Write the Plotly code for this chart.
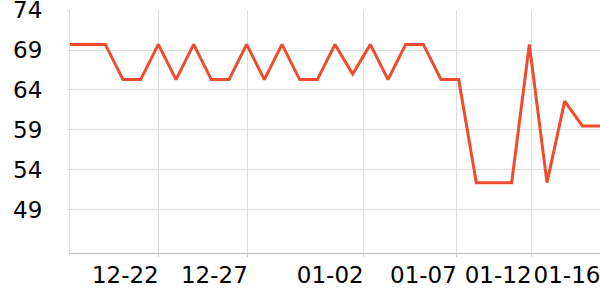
import plotly.graph_objects as go
import pandas as pd

dates = [d.strftime("%Y-%m-%d") for d in pd.date_range("2023-12-17", "2024-01-16", freq="D")]
values = [69.7, 69.7, 69.7, 65.3, 65.3, 69.7, 65.3, 69.7, 65.3, 65.3,
          69.7, 65.3, 69.7, 65.3, 65.3, 69.7, 66.0, 69.7, 65.3, 69.7,
          69.7, 65.3, 65.3, 52.4, 52.4, 52.4, 69.7, 52.4, 62.6, 59.5, 59.5]
tick_positions = ["2023-12-22", "2023-12-27 01:00", "2024-01-02 14:24",
                  "2024-01-07 21:00", "2024-01-12 02:24", "2024-01-16"]
tick_labels = ["12-22", "12-27", "01-02", "01-07", "01-12", "01-16"]
y_ticks = [49, 54, 59, 64, 69, 74]

fig = go.Figure()
fig.add_trace(go.Scatter(x=dates, y=values, mode="lines",
                         line=dict(color="#ef4b2c", width=3), hoverinfo="skip"))

fig.update_layout(
    width=600, height=300,
    margin=dict(l=70, r=0, t=10, b=47),
    paper_bgcolor="white", plot_bgcolor="white",
    showlegend=False,
    font=dict(family="DejaVu Sans", size=23, color="#000"),
)
fig.update_xaxes(
    type="date",
    range=["2023-12-17", "2024-01-16"],
    tickmode="array", tickvals=tick_positions, ticktext=tick_labels,
    showgrid=True, gridcolor="#dddddd", gridwidth=1,
    showline=True, linecolor="#bbbbbb", linewidth=1,
    ticks="outside", ticklen=3, tickcolor="#cccccc",
    ticklabelshift=-33, ticklabelstandoff=-2,
    ticklabeloverflow="allow", automargin=False,
    zeroline=False,
)
fig.update_yaxes(
    range=[43.6, 74.01],
    tickmode="array", tickvals=y_ticks, ticktext=[str(v) for v in y_ticks],
    showgrid=True, gridcolor="#dddddd", gridwidth=1,
    showline=True, linecolor="#dddddd", linewidth=1,
    ticks="outside", ticklen=2, tickcolor="#dddddd",
    ticklabelstandoff=20,
    ticklabeloverflow="allow", automargin=False,
    zeroline=False,
)

fig.write_html("out.html")
